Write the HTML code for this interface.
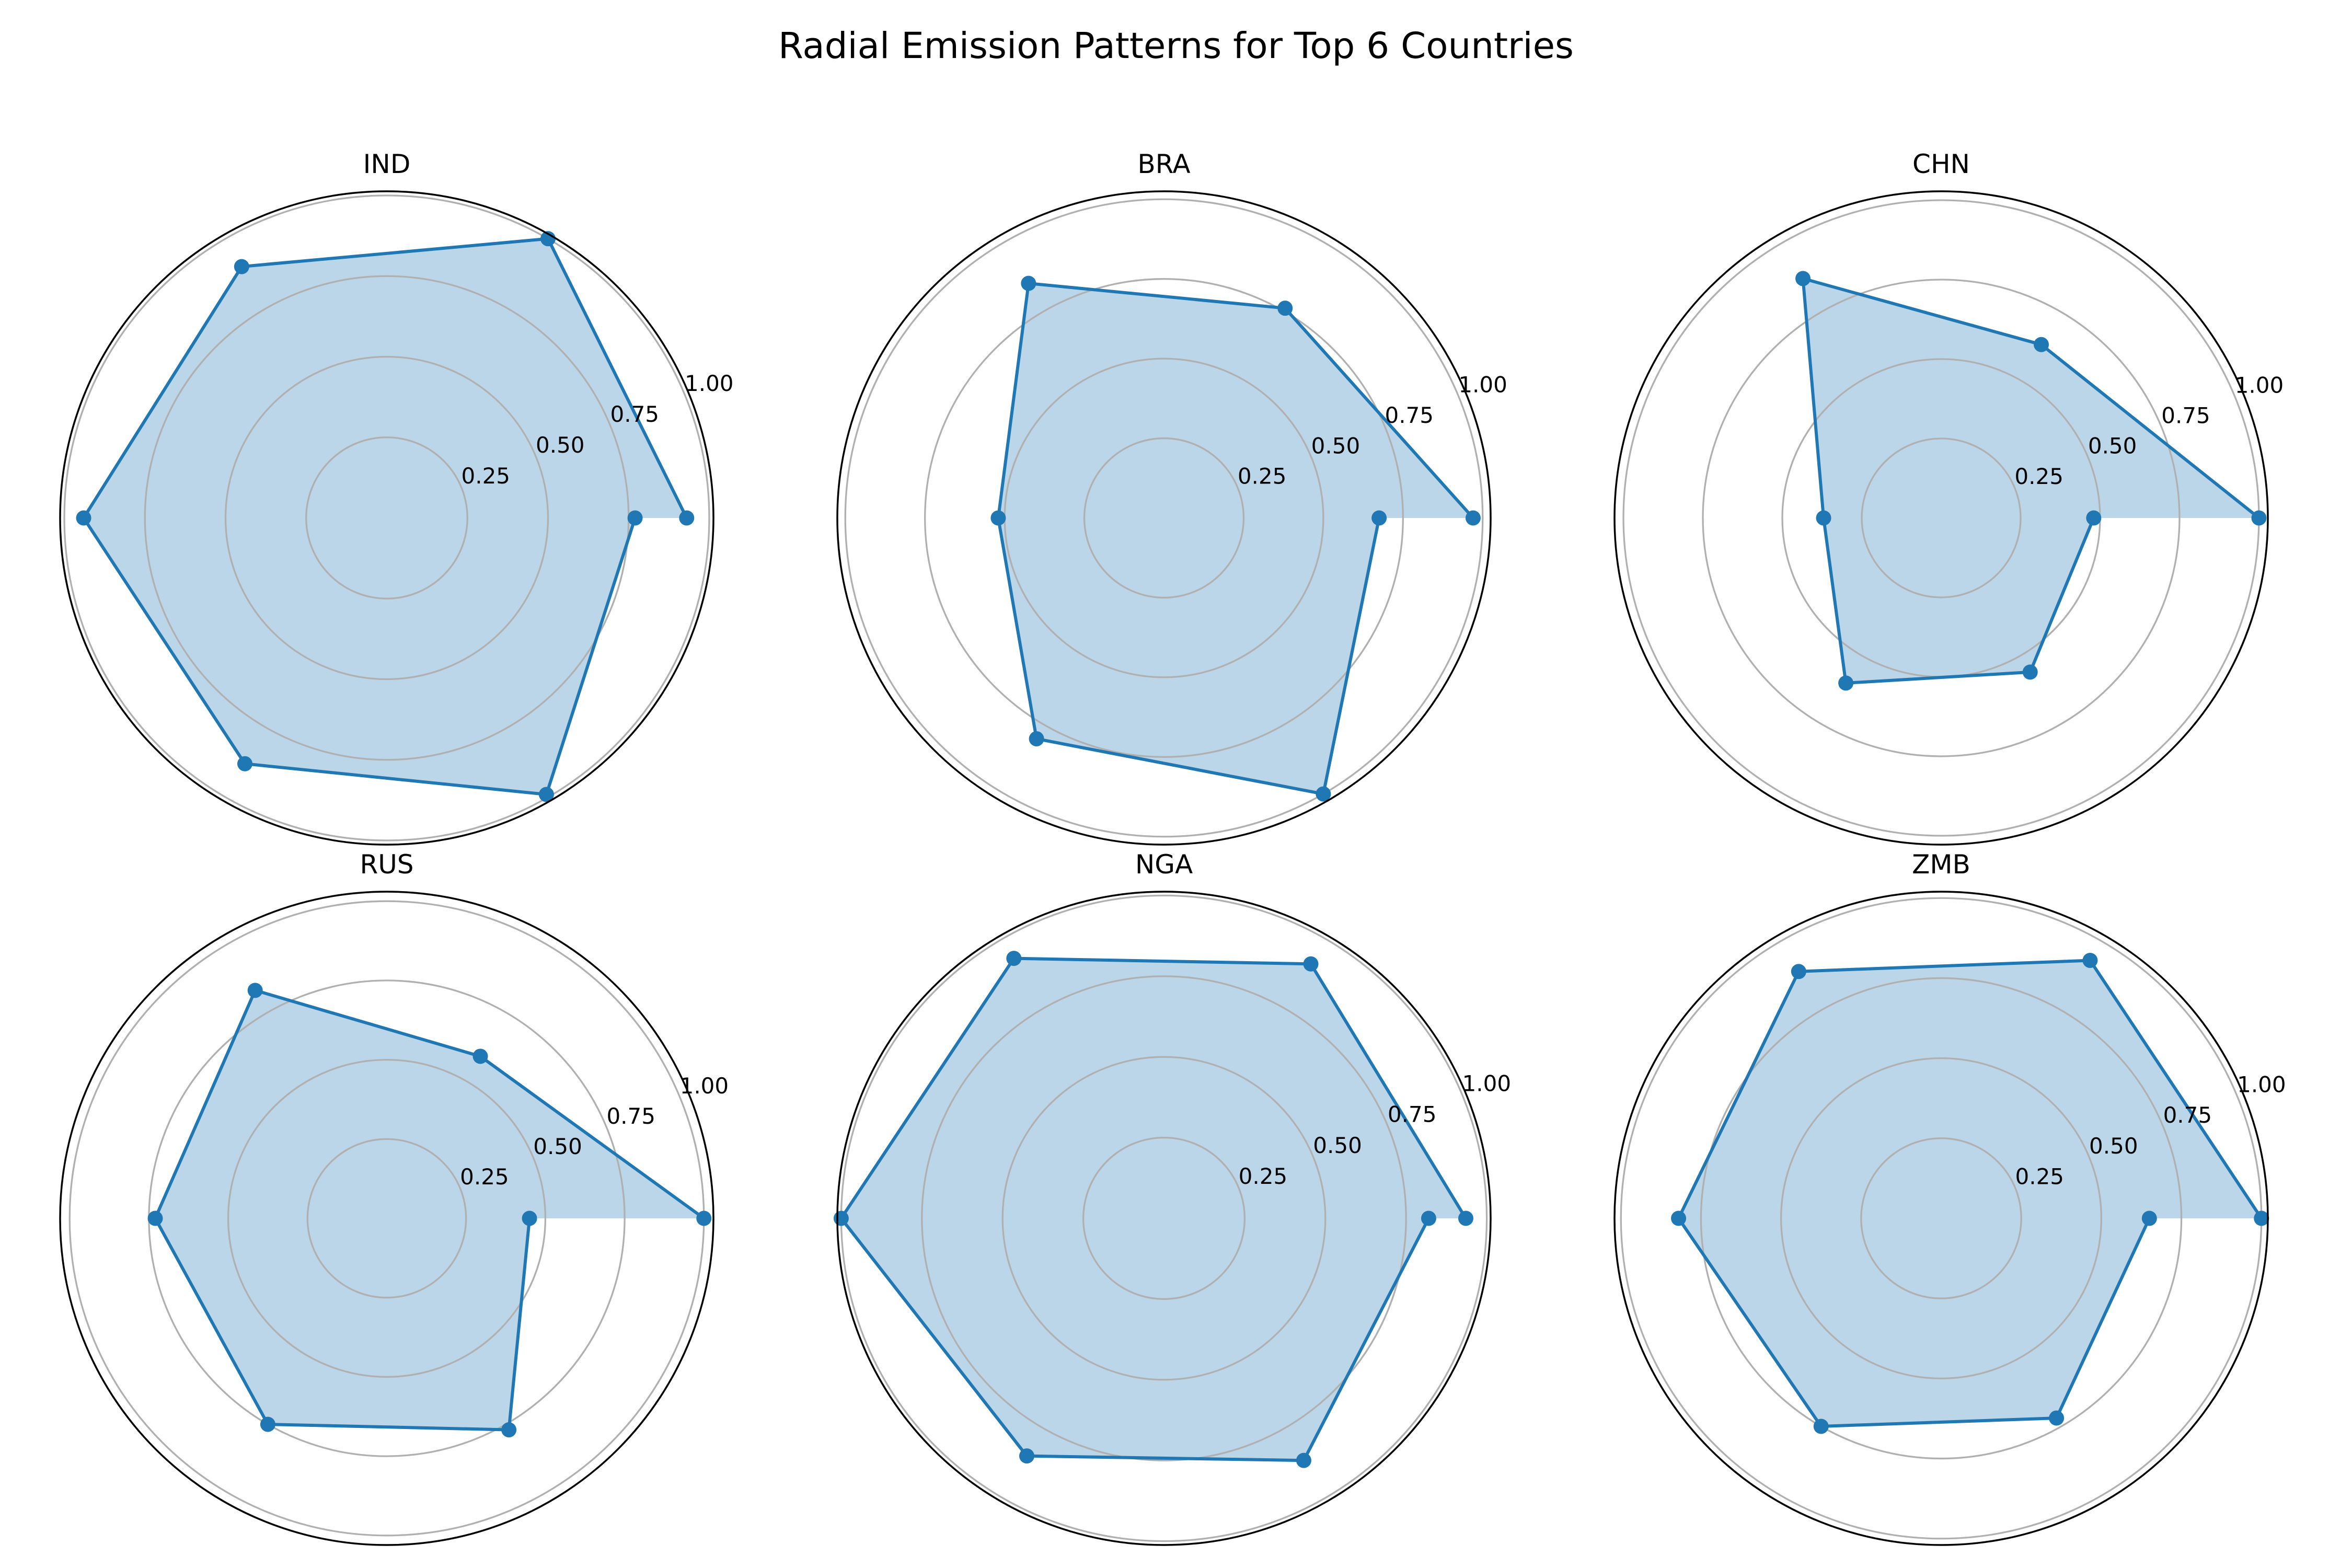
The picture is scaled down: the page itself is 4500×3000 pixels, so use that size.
<!DOCTYPE html>
<html><head><meta charset="utf-8"><style>
html,body{margin:0;padding:0;background:#fff;}
svg{display:block;font-family:"DejaVu Sans","Liberation Sans",sans-serif;}
</style></head><body>
<svg id="fig" width="4500" height="3000" viewBox="0 0 4500 3000" xmlns="http://www.w3.org/2000/svg">
<rect width="4500" height="3000" fill="#fff"/>
<text x="2250" y="111" text-anchor="middle" font-size="69" fill="#000">Radial Emission Patterns for Top 6 Countries</text>
</svg>
<script>
const countries = ["IND","BRA","CHN","RUS","NGA","ZMB"];
const valsIND = [0.93,1.00,0.90,0.94,0.88,0.99,0.77];
const valsBRA = [0.97,0.76,0.85,0.52,0.80,1.00,0.675];
const valsCHN = [1.00,0.63,0.87,0.37,0.60,0.56,0.48];
const valsRUS = [1.00,0.59,0.83,0.73,0.75,0.77,0.45];
const valsNGA = [0.935,0.91,0.93,1.00,0.85,0.866,0.82];
const valsZMB = [1.00,0.93,0.89,0.82,0.75,0.72,0.65];
const rMaxes = [1.013,1.025,1.028,1.03,1.012,1.02];
const rTicks = [0.25,0.5,0.75,1.0];
const rTickLabels = ["0.25","0.50","0.75","1.00"];
const allVals = [valsIND,valsBRA,valsCHN,valsRUS,valsNGA,valsZMB];

const NS = "http://www.w3.org/2000/svg";
const svg = document.getElementById("fig");
const colX = [740,2227,3714], rowY = [991,2331], SPINE = 625;
function mk(tag, attrs, parent){const e=document.createElementNS(NS,tag);for(const k in attrs)e.setAttribute(k,attrs[k]);(parent||svg).appendChild(e);return e;}

countries.forEach((c,i)=>{
  const cx = colX[i%3], cy = rowY[Math.floor(i/3)];
  const unit = SPINE / rMaxes[i];
  const rScale = v => v*unit;
  const vals = allVals[i];
  const n = vals.length;
  const ang = k => 2*Math.PI*k/(n-1);
  const px = (k,v) => cx + rScale(v)*Math.cos(ang(k));
  const py = (k,v) => cy - rScale(v)*Math.sin(ang(k));
  const g = mk("g",{});
  
  
  const pts = vals.map((v,k)=>px(k,v).toFixed(1)+","+py(k,v).toFixed(1)).join(" ");
  const poly = mk("polygon",{points:pts,fill:"#1f77b4","fill-opacity":0.3,stroke:"none"},g);
  
  
  rTicks.forEach((t,j)=>{
    const ring = mk("circle",{cx:cx,cy:cy,r:rScale(t),fill:"none",stroke:"#b0b0b0","stroke-width":3.3},g);
    
    
  });
  const line = mk("polyline",{points:pts,fill:"none",stroke:"#1f77b4","stroke-width":6,"stroke-linejoin":"round"},g);
  
  
  vals.forEach((v,k)=>{
    const m = mk("circle",{cx:px(k,v),cy:py(k,v),r:14.5,fill:"#1f77b4"},g);
    
    
  });
  rTicks.forEach((t,j)=>{
    const a = 22.5*Math.PI/180;
    const tx = mk("text",{x:cx+rScale(t)*Math.cos(a),y:cy-rScale(t)*Math.sin(a)-7,"font-size":42,fill:"#000"},g);
    tx.textContent = rTickLabels[j];
    
    
  });
  const sp = mk("circle",{cx:cx,cy:cy,r:SPINE,fill:"none",stroke:"#000","stroke-width":3.5},g);
  
  
  const tt = mk("text",{x:cx,y:cy-SPINE-35,"text-anchor":"middle","font-size":50,fill:"#000"},g);
  tt.textContent = c;
  
  
});
</script>
</body></html>
